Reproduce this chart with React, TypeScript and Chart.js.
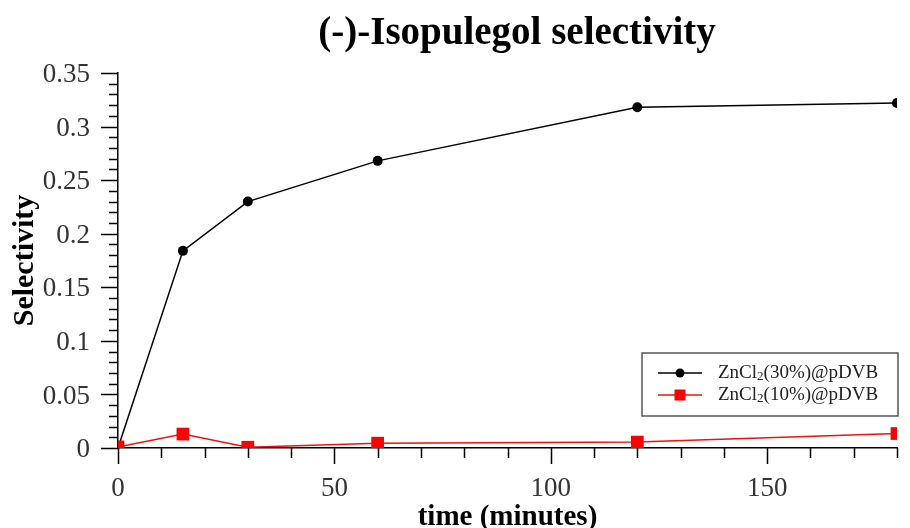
import React, { useEffect, useRef } from 'react';
import { Chart, registerables } from 'chart.js';

Chart.register(...registerables);

const timeMinutes = [0, 15, 30, 60, 120, 180];
const zn30Selectivity = [0, 0.184, 0.23, 0.268, 0.318, 0.322];
const zn10Selectivity = [0.001, 0.013, 0.0007, 0.0045, 0.0055, 0.0135];
const seriesLabels = ['ZnCl₂(30%)@pDVB', 'ZnCl₂(10%)@pDVB'];
const chartTitle = '(-)-Isopulegol selectivity';
const xAxisTitle = 'time (minutes)';
const yAxisTitle = 'Selectivity';
const xMajorStep = 50;
const xMinorStep = 10;
const yMajorStep = 0.05;
const yMinorStep = 0.01;

const SERIF = '"Liberation Serif", "Times New Roman", serif';

const decorPlugin = {
  id: 'decor',
  afterDraw(chart: any) {
    const { ctx, chartArea } = chart;
    const xs = chart.scales.x;
    const ys = chart.scales.y;
    ctx.save();
    // minor / major tick marks
    ctx.strokeStyle = '#000';
    ctx.lineWidth = 1.5;
    const xMinorCount = Math.round((xs.max - xs.min) / xMinorStep);
    for (let i = 0; i <= xMinorCount; i++) {
      const v = xs.min + i * xMinorStep;
      const px = Math.round(xs.getPixelForValue(v)) + 0.5;
      const major = Math.abs(v % xMajorStep) < 1e-9;
      const len = major ? 16 : 10;
      ctx.beginPath();
      ctx.moveTo(px, chartArea.bottom);
      ctx.lineTo(px, chartArea.bottom + len);
      ctx.stroke();
    }
    const yMinorCount = Math.round((ys.max - ys.min) / yMinorStep);
    const perMajor = Math.round(yMajorStep / yMinorStep);
    for (let i = 0; i <= yMinorCount; i++) {
      const v = ys.min + i * yMinorStep;
      const py = Math.round(ys.getPixelForValue(v)) + 0.5;
      const major = i % perMajor === 0;
      const len = major ? 17 : 9;
      ctx.beginPath();
      ctx.moveTo(chartArea.left, py);
      ctx.lineTo(chartArea.left - len, py);
      ctx.stroke();
    }

    // title
    ctx.fillStyle = '#000';
    ctx.font = `bold 39px ${SERIF}`;
    ctx.textAlign = 'center';
    ctx.textBaseline = 'alphabetic';
    ctx.fillText(chartTitle, 517, 44);

    // legend
    const bx = 642, by = 353, bw = 256, bh = 63;
    ctx.fillStyle = '#fff';
    ctx.fillRect(bx, by, bw, bh);
    ctx.strokeStyle = '#555';
    ctx.lineWidth = 1.5;
    ctx.strokeRect(bx, by, bw, bh);
    const rows = [373, 395];
    chart.data.datasets.forEach((ds: any, i: number) => {
      const cy = rows[i];
      ctx.strokeStyle = ds.borderColor;
      ctx.lineWidth = 1.5;
      ctx.beginPath();
      ctx.moveTo(658, cy);
      ctx.lineTo(702, cy);
      ctx.stroke();
      ctx.fillStyle = ds.pointBackgroundColor;
      if (ds.pointStyle === 'rect') {
        ctx.fillRect(680 - 5.5, cy - 5.5, 11, 11);
      } else {
        ctx.beginPath();
        ctx.arc(680, cy, 4.5, 0, Math.PI * 2);
        ctx.fill();
      }
      // label with subscript
      const parts = String(ds.label).split('₂');
      ctx.fillStyle = '#222';
      ctx.textAlign = 'left';
      ctx.textBaseline = 'middle';
      let tx = 718;
      ctx.font = `19px ${SERIF}`;
      ctx.fillText(parts[0], tx, cy);
      tx += ctx.measureText(parts[0]).width;
      if (parts.length > 1) {
        ctx.font = `13px ${SERIF}`;
        ctx.fillText('2', tx, cy + 4);
        tx += ctx.measureText('2').width;
        ctx.font = `19px ${SERIF}`;
        ctx.fillText(parts[1], tx, cy);
      }
    });
    ctx.restore();
  },
};

export default function App() {
  const canvasRef = useRef<HTMLCanvasElement | null>(null);

  useEffect(() => {
    document.body.style.margin = '0';
    const canvas = canvasRef.current;
    if (!canvas) return;
    const chart = new Chart(canvas, {
      type: 'line',
      data: {
        datasets: [
          {
            label: seriesLabels[0],
            data: timeMinutes.map((t, i) => ({ x: t, y: zn30Selectivity[i] })),
            borderColor: '#000',
            backgroundColor: '#000',
            pointBackgroundColor: '#000',
            pointBorderColor: '#000',
            pointStyle: 'circle',
            pointRadius: 5,
            pointBorderWidth: 0,
            borderWidth: 1.5,
            tension: 0,
            order: 1,
          },
          {
            label: seriesLabels[1],
            data: timeMinutes.map((t, i) => ({ x: t, y: zn10Selectivity[i] })),
            borderColor: '#ee1111',
            backgroundColor: '#ff0000',
            pointBackgroundColor: '#ff0000',
            pointBorderColor: '#ff0000',
            pointStyle: 'rect',
            pointRadius: 9,
            pointBorderWidth: 0,
            borderWidth: 1.5,
            tension: 0,
            order: 0,
          },
        ],
      },
      options: {
        animation: false,
        responsive: false,
        maintainAspectRatio: false,
        layout: { padding: { top: 73, right: 13, left: 0, bottom: 0 } },
        plugins: {
          legend: { display: false },
          tooltip: { enabled: false },
          title: { display: false },
        },
        scales: {
          x: {
            type: 'linear',
            min: 0,
            max: 180,
            grid: { display: false },
            border: { display: true, color: '#000', width: 1.5 },
            ticks: {
              stepSize: xMajorStep,
              padding: 17,
              color: '#333',
              font: { family: SERIF, size: 27 },
              maxRotation: 0,
            },
            afterBuildTicks: (scale: any) => {
              scale.ticks = scale.ticks.filter((t: any) => Math.abs(t.value % xMajorStep) < 1e-9);
            },
            afterFit: (scale: any) => {
              scale.height = 80;
            },
            title: {
              display: true,
              text: xAxisTitle,
              color: '#000',
              font: { family: SERIF, size: 29, weight: 'bold', lineHeight: 0.75 },
              padding: { top: 0, bottom: 0 },
            },
          },
          y: {
            type: 'linear',
            min: 0,
            max: 0.35,
            grid: { display: false },
            border: { display: true, color: '#000', width: 1.5 },
            ticks: {
              stepSize: yMajorStep,
              padding: 20,
              labelOffset: 2,
              color: '#333',
              font: { family: SERIF, size: 27 },
              callback: (v: any) => String(Number(Number(v).toFixed(2))),
            },
            afterFit: (scale: any) => {
              scale.width = 118;
            },
            title: {
              display: true,
              text: yAxisTitle,
              color: '#000',
              font: { family: SERIF, size: 30, weight: 'bold', lineHeight: 1 },
              padding: { top: 10, bottom: 0 },
            },
          },
        },
      },
      plugins: [decorPlugin],
    } as any);
    return () => chart.destroy();
  }, []);

  return (
    <div style={{ width: 910, height: 528, background: '#fff' }}>
      <canvas ref={canvasRef} width={910} height={528} style={{ display: 'block' }} />
    </div>
  );
}
